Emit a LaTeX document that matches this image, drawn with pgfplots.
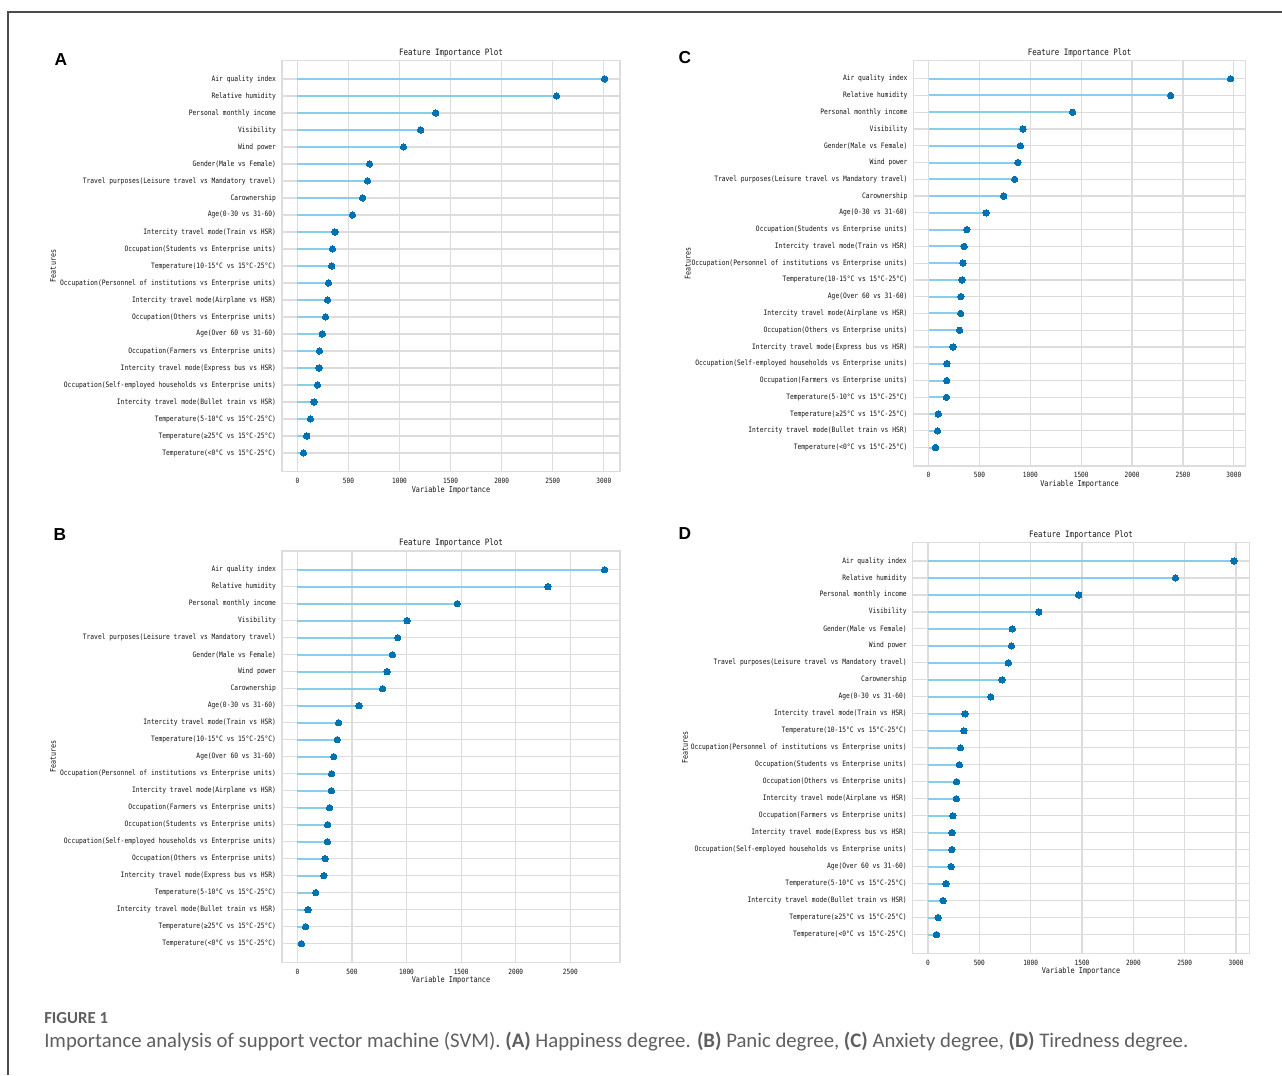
\documentclass[border=0pt]{standalone}
\usepackage{pgfplots}
\pgfplotsset{compat=1.18}
\usepackage{fontspec}
\setmainfont{Carlito}
\newfontfamily\plotfont{DejaVu Sans Mono}[FakeStretch=0.85]
\newfontfamily\letterfont{Liberation Sans}
\definecolor{stemc}{HTML}{87CEEB}
\definecolor{dotc}{HTML}{0072B2}
\definecolor{gridc}{HTML}{DDDDDD}
\definecolor{capc}{HTML}{5F5F5F}

\pgfplotsset{
 fip/.style={
  scale only axis, anchor=north west,
  y dir=reverse,
  ymin=-1.1, ymax=23.1,
  ytick={0,...,22},
  grid=major,
  grid style={draw=gridc, line width=0.9pt},
  axis line style={draw=gridc, line width=0.9pt},
  major tick length=0pt,
  every axis title shift=0pt,
  /pgf/number format/assume math mode=true,
  /pgf/number format/1000 sep={},
  yticklabel style={font={\plotfont\fontsize{5.55pt}{6pt}\selectfont}, inner sep=0pt, anchor=east, xshift=-4.3pt, text=black!92},
  xticklabel style={font={\plotfont\fontsize{5.4pt}{6pt}\selectfont}, inner sep=0pt, anchor=center, yshift=-7pt, text=black!92},
  title=Feature Importance Plot,
  title style={font={\plotfont\fontsize{6.6pt}{7pt}\selectfont}, at={(axis description cs:0.5,1)}, anchor=center, yshift=5.6pt, inner sep=0pt, text=black!92},
  xlabel=Variable Importance,
  xlabel style={font={\plotfont\fontsize{6.05pt}{7pt}\selectfont}, at={(axis description cs:0.5,0)}, anchor=center, yshift=-13.7pt, inner sep=0pt, text=black!92},
  ylabel=Features,
  ylabel style={font={\plotfont\fontsize{5.9pt}{7pt}\selectfont}, anchor=center, inner sep=0pt, text=black!92},
 },
 stemp/.style={xcomb, draw=stemc, line width=1.5pt, mark=none},
 dotp/.style={only marks, mark=*, mark size=2.4pt, mark options={fill=dotc, draw=dotc, line width=0pt}},
}

\begin{document}
\begin{tikzpicture}
\path[use as bounding box] (0pt,0pt) rectangle (961.5pt,-806.25pt);
\fill[white] (0pt,0pt) rectangle (961.5pt,-806.25pt);
\draw[black!70, line width=0.9pt] (6pt,-806.25pt) -- (6pt,-9pt) -- (961.5pt,-9pt);

% Panel letters
\node[inner sep=0pt, anchor=center, font=\letterfont\bfseries\fontsize{13pt}{15pt}\selectfont] at (45.75pt,-44.6pt) {A};
\node[inner sep=0pt, anchor=center, font=\letterfont\bfseries\fontsize{13pt}{15pt}\selectfont] at (45pt,-401.2pt) {B};
\node[inner sep=0pt, anchor=center, font=\letterfont\bfseries\fontsize{13pt}{15pt}\selectfont] at (513.75pt,-43.5pt) {C};
\node[inner sep=0pt, anchor=center, font=\letterfont\bfseries\fontsize{13pt}{15pt}\selectfont] at (513.75pt,-400.3pt) {D};

% Panel A
\begin{axis}[fip, at={(211.5pt,-45.2pt)}, width=253.5pt, height=308.55pt,
  xmin=-150.4, xmax=3158.4, xtick={0,500,...,3000},
  ylabel style={at={(axis description cs:-0.6775,0.5)}},
  yticklabels={{Air quality index},{Relative humidity},{Personal monthly income},{Visibility},{Wind power},{Gender(Male vs Female)},{Travel purposes(Leisure travel vs Mandatory travel)},{Carownership},{Age(0-30 vs 31-60)},{Intercity travel mode(Train vs HSR)},{Occupation(Students vs Enterprise units)},{Temperature(10-15°C vs 15°C-25°C)},{Occupation(Personnel of institutions vs Enterprise units)},{Intercity travel mode(Airplane vs HSR)},{Occupation(Others vs Enterprise units)},{Age(Over 60 vs 31-60)},{Occupation(Farmers vs Enterprise units)},{Intercity travel mode(Express bus vs HSR)},{Occupation(Self-employed households vs Enterprise units)},{Intercity travel mode(Bullet train vs HSR)},{Temperature(5-10°C vs 15°C-25°C)},{Temperature(≥25°C vs 15°C-25°C)},{Temperature(<0°C vs 15°C-25°C)}}]
\pgfplotstableread{
x y
3008 0
2537 1
1354 2
1207 3
1039 4
707 5
687 6
639 7
539 8
368 9
344 10
336 11
304 12
296 13
276 14
244 15
216 16
212 17
196 18
164 19
128 20
92 21
60 22
}\dataA
\addplot[stemp] table[x=x,y=y] {\dataA};
\addplot[dotp] table[x=x,y=y] {\dataA};
\end{axis}

% Panel B
\begin{axis}[fip, at={(211.5pt,-413.25pt)}, width=253.5pt, height=308.5pt,
  xmin=-140.7, xmax=2954.7, xtick={0,500,...,2500},
  ylabel style={at={(axis description cs:-0.6775,0.5)}},
  yticklabels={{Air quality index},{Relative humidity},{Personal monthly income},{Visibility},{Travel purposes(Leisure travel vs Mandatory travel)},{Gender(Male vs Female)},{Wind power},{Carownership},{Age(0-30 vs 31-60)},{Intercity travel mode(Train vs HSR)},{Temperature(10-15°C vs 15°C-25°C)},{Age(Over 60 vs 31-60)},{Occupation(Personnel of institutions vs Enterprise units)},{Intercity travel mode(Airplane vs HSR)},{Occupation(Farmers vs Enterprise units)},{Occupation(Students vs Enterprise units)},{Occupation(Self-employed households vs Enterprise units)},{Occupation(Others vs Enterprise units)},{Intercity travel mode(Express bus vs HSR)},{Temperature(5-10°C vs 15°C-25°C)},{Intercity travel mode(Bullet train vs HSR)},{Temperature(≥25°C vs 15°C-25°C)},{Temperature(<0°C vs 15°C-25°C)}}]
\pgfplotstableread{
x y
2814 0
2294 1
1465 2
1005 3
919 4
871 5
822 6
781 7
564 8
377 9
366 10
333 11
314 12
312 13
295 14
277 15
275 16
254 17
243 18
168 19
97 20
75 21
37 22
}\dataB
\addplot[stemp] table[x=x,y=y] {\dataB};
\addplot[dotp] table[x=x,y=y] {\dataB};
\end{axis}

% Panel C
\begin{axis}[fip, at={(685.1pt,-45.2pt)}, width=249.15pt, height=304.3pt,
  xmin=-148.4, xmax=3116.4, xtick={0,500,...,3000},
  ylabel style={at={(axis description cs:-0.679,0.5)}},
  yticklabels={{Air quality index},{Relative humidity},{Personal monthly income},{Visibility},{Gender(Male vs Female)},{Wind power},{Travel purposes(Leisure travel vs Mandatory travel)},{Carownership},{Age(0-30 vs 31-60)},{Occupation(Students vs Enterprise units)},{Intercity travel mode(Train vs HSR)},{Occupation(Personnel of institutions vs Enterprise units)},{Temperature(10-15°C vs 15°C-25°C)},{Age(Over 60 vs 31-60)},{Intercity travel mode(Airplane vs HSR)},{Occupation(Others vs Enterprise units)},{Intercity travel mode(Express bus vs HSR)},{Occupation(Self-employed households vs Enterprise units)},{Occupation(Farmers vs Enterprise units)},{Temperature(5-10°C vs 15°C-25°C)},{Temperature(≥25°C vs 15°C-25°C)},{Intercity travel mode(Bullet train vs HSR)},{Temperature(<0°C vs 15°C-25°C)}}]
\pgfplotstableread{
x y
2968 0
2379 1
1416 2
927 3
903 4
878 5
846 6
738 7
566 8
377 9
349 10
337 11
329 12
317 13
315 14
305 15
241 16
180 17
178 18
176 19
96 20
88 21
68 22
}\dataC
\addplot[stemp] table[x=x,y=y] {\dataC};
\addplot[dotp] table[x=x,y=y] {\dataC};
\end{axis}

% Panel D
\begin{axis}[fip, at={(684.5pt,-406.7pt)}, width=252.5pt, height=308.25pt,
  xmin=-149, xmax=3129, xtick={0,500,...,3000},
  ylabel style={at={(axis description cs:-0.676,0.5)}},
  yticklabels={{Air quality index},{Relative humidity},{Personal monthly income},{Visibility},{Gender(Male vs Female)},{Wind power},{Travel purposes(Leisure travel vs Mandatory travel)},{Carownership},{Age(0-30 vs 31-60)},{Intercity travel mode(Train vs HSR)},{Temperature(10-15°C vs 15°C-25°C)},{Occupation(Personnel of institutions vs Enterprise units)},{Occupation(Students vs Enterprise units)},{Occupation(Others vs Enterprise units)},{Intercity travel mode(Airplane vs HSR)},{Occupation(Farmers vs Enterprise units)},{Intercity travel mode(Express bus vs HSR)},{Occupation(Self-employed households vs Enterprise units)},{Age(Over 60 vs 31-60)},{Temperature(5-10°C vs 15°C-25°C)},{Intercity travel mode(Bullet train vs HSR)},{Temperature(≥25°C vs 15°C-25°C)},{Temperature(<0°C vs 15°C-25°C)}}]
\pgfplotstableread{
x y
2980 0
2409 1
1468 2
1079 3
821 4
813 5
782 6
722 7
611 8
361 9
349 10
317 11
306 12
278 13
276 14
242 15
234 16
232 17
226 18
175 19
147 20
99 21
83 22
}\dataD
\addplot[stemp] table[x=x,y=y] {\dataD};
\addplot[dotp] table[x=x,y=y] {\dataD};
\end{axis}

% Caption
\node[anchor=base west, inner sep=0pt, text=capc, font=\bfseries\fontsize{12.6pt}{14pt}\selectfont] at (33pt,-767.5pt) {FIGURE 1};
\node[anchor=base west, inner sep=0pt, text=capc, font=\fontsize{15.55pt}{17pt}\selectfont] at (33pt,-785.5pt) {Importance analysis of support vector machine (SVM). \textbf{(A)} Happiness degree. \textbf{(B)} Panic degree, \textbf{(C)} Anxiety degree, \textbf{(D)} Tiredness degree.};
\end{tikzpicture}
\end{document}
